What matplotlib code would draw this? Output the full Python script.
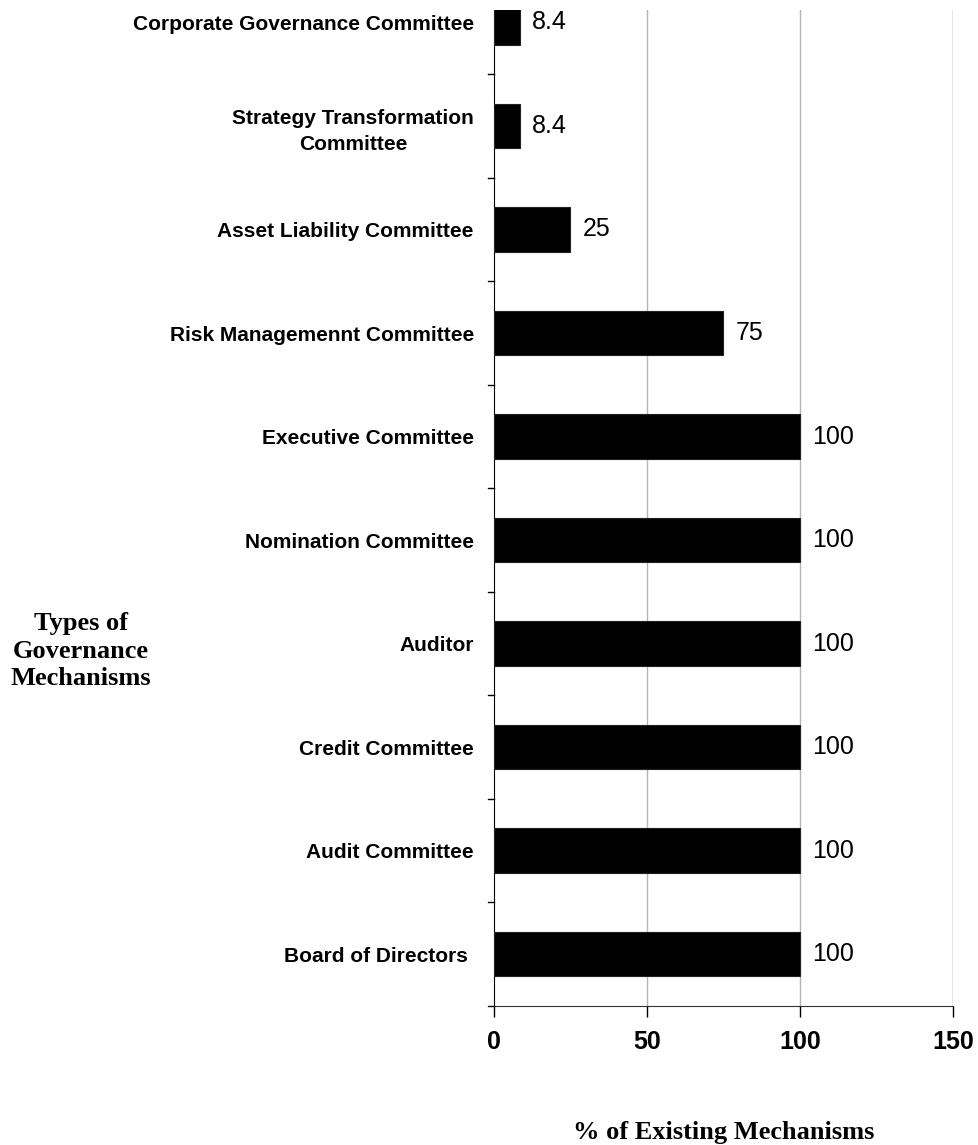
import matplotlib.pyplot as plt
from matplotlib import font_manager

# governance mechanisms, listed from the bottom of the chart upward
mechanisms = [
    'Board of Directors ',
    'Audit Committee',
    'Credit Committee',
    'Auditor',
    'Nomination Committee',
    'Executive Committee',
    'Risk Managemennt Committee',
    'Asset Liability Committee',
    'Strategy Transformation\nCommittee',
    'Corporate Governance Committee',
]
pct_existing = [100, 100, 100, 100, 100, 100, 75, 25, 8.4, 8.4]
value_labels = ['100', '100', '100', '100', '100', '100', '75', '25', '8.4', '8.4']
x_ticks = [0, 50, 100, 150]

installed = {f.name for f in font_manager.fontManager.ttflist}
narrow = 'Liberation Sans Narrow' if 'Liberation Sans Narrow' in installed else 'Liberation Sans'

W, H = 979, 1145
fig = plt.figure(figsize=(W / 100, H / 100), dpi=100)
ax = fig.add_axes([494 / W, 1 - 1006 / H, (953 - 494) / W, (1006 - 10) / H])

pos = list(range(len(mechanisms)))
ax.barh(pos, pct_existing, height=0.43, color='black', edgecolor='#222222',
        linewidth=0.8, zorder=3)

for y, v, s in zip(pos, pct_existing, value_labels):
    ax.text(v + 3.9, y, s, va='center', ha='left', fontsize=18,
            family=narrow, color='black')

ax.set_xlim(0, 150)
ax.set_ylim(-0.5, 9.12)
ax.set_xticks(x_ticks)
ax.set_xticklabels([str(t) for t in x_ticks], fontsize=18, family=narrow,
                   fontweight='bold')
ax.set_yticks(pos)
ax.set_yticklabels(mechanisms, fontsize=15, family=narrow, fontweight='bold',
                   multialignment='center', linespacing=1.45)
ax.tick_params(axis='y', length=0, pad=14.5)
ax.tick_params(axis='x', length=8, width=1, direction='out', pad=9)

# category separator ticks on the value axis
for b in [i - 0.5 for i in range(len(mechanisms))]:
    ax.plot([-2.0, 0], [b, b], color='black', lw=1, clip_on=False, zorder=4)

for g in [50, 100]:
    ax.axvline(g, color='#b4b4b4', lw=1, zorder=1)
ax.axvline(150, color='#808080', lw=1, zorder=1)

for side in ['top', 'right']:
    ax.spines[side].set_visible(False)
ax.spines['left'].set_color('black')
ax.spines['bottom'].set_color('#333333')

fig.text(81 / W, 1 - 651 / H, 'Types of\nGovernance\nMechanisms', ha='center',
         va='center', fontsize=19, family='Liberation Serif', fontweight='bold',
         linespacing=1.25)
fig.text(724 / W, 1 - 1132 / H, '% of Existing Mechanisms', ha='center',
         va='center', fontsize=19, family='Liberation Serif', fontweight='bold')

fig.savefig('out.png', dpi=100, facecolor='white')
